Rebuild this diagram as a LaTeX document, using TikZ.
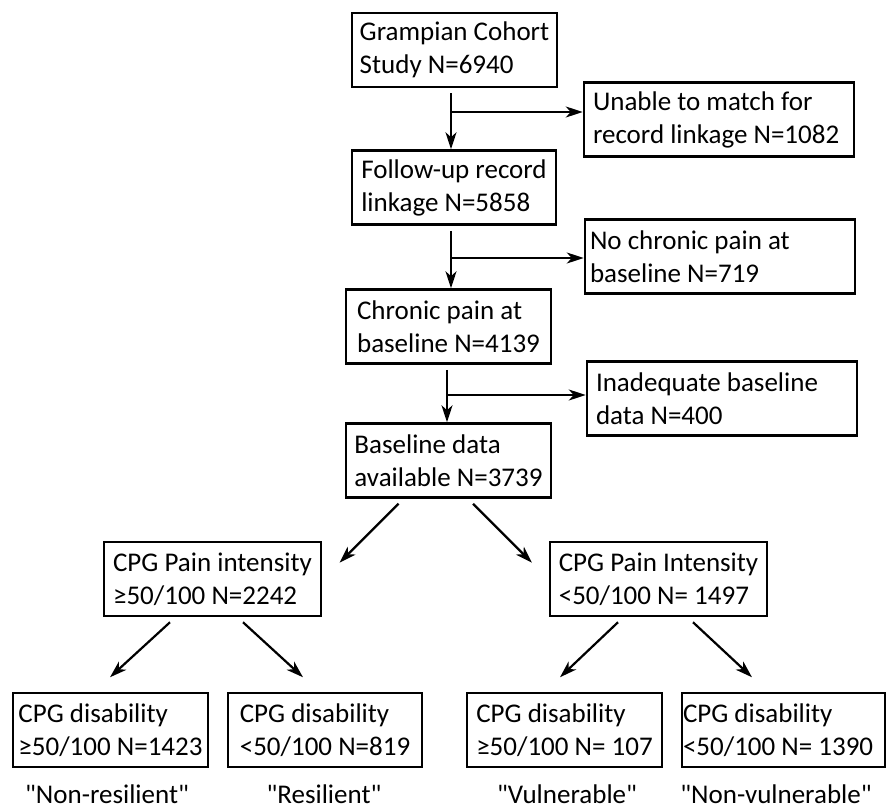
\documentclass[tikz,border=0pt]{standalone}
\usepackage{fontspec}
\setmainfont{Carlito}[Ligatures=TeXOff]
\usetikzlibrary{arrows.meta}

\tikzset{
  box/.style={draw, line width=2.5pt, align=left, inner xsep=2pt, inner ysep=0pt,
    minimum height=74pt, font=\fontsize{27}{33}\selectfont},
  arr/.style={line width=2.2pt, -{Stealth[length=17pt,width=11pt,inset=5pt]}},
  tag/.style={anchor=base, font=\fontsize{27}{33}\selectfont}
}

\begin{document}
\begin{tikzpicture}[x=1pt, y=-1pt]
    \useasboundingbox (0,0) rectangle (887,808);
    % main column
    \node[box, minimum width=205pt] (gcs) at (454.5,50) {Grampian Cohort\\Study N=6940};
    \node[box, minimum width=204pt] (fur) at (454,187.5) {Follow-up record\\linkage N=5858};
    \node[box, minimum width=205pt] (cpb) at (448.5,326.5) {Chronic pain at\\baseline N=4139};
    \node[box, minimum width=205pt] (bda) at (448.5,460.5) {Baseline data\\available N=3739};
    % exclusions
    \node[box, minimum width=270pt, text width=252pt, align=flush left] (unm) at (719,119.5) {Unable to match for\\record linkage N=1082};
    \node[box, minimum width=270pt, text width=260pt, align=flush left] (ncp) at (720,256.5) {No chronic pain at\\baseline N=719};
    \node[box, minimum width=270pt, text width=252pt, align=flush left] (iba) at (722,398.5) {Inadequate baseline\\data N=400};
    % pain intensity
    \node[box, minimum width=217pt] (pih) at (212.5,579) {CPG Pain intensity\\≥50/100 N=2242};
    \node[box, minimum width=217pt] (pil) at (658.5,579) {CPG Pain Intensity\\<50/100 N= 1497};
    % disability
    \node[box, minimum width=195pt] (dhh) at (110.5,730) {CPG disability\\≥50/100 N=1423};
    \node[box, minimum width=194pt] (dhl) at (325,730) {CPG disability\\<50/100 N=819};
    \node[box, minimum width=195pt] (dlh) at (564.5,730) {CPG disability\\≥50/100 N= 107};
    \node[box, minimum width=203pt, inner xsep=0pt, text width=201pt, align=flush left] (dll) at (783.5,730) {CPG disability\\<50/100~N=~1390};
    % groups
    \node[tag] (nres) at (107,803) {"Non-resilient"};
    \node[tag] (res) at (324,803) {"Resilient"};
    \node[tag] (vul) at (567,803) {"Vulnerable"};
    \node[tag] (nvul) at (776,803) {"Non-vulnerable"};

    \coordinate (j1) at (451,112);
    \coordinate (j2) at (451,258);
    \coordinate (j3) at (447,395);
    \draw[arr] (gcs.south -| j1) ++(0,5) -- (fur.north -| j1);
    \draw[arr] (fur.south -| j2) ++(0,5) -- (cpb.north -| j2);
    \draw[arr] (cpb.south -| j3) ++(0,5) -- (bda.north -| j3);
    \draw[arr] (j1) -- (j1 -| unm.west);
    \draw[arr] (j2) -- (j2 -| ncp.west);
    \draw[arr] (j3) -- (j3 -| iba.west);

    \draw[arr] (bda.south) ++(-50,5) -- ++(-59,59);
    \draw[arr] (bda.south) ++(24.5,5) -- ++(59,59);
    \draw[arr] (pih.south) ++(-42.5,5) -- ++(-60,55);
    \draw[arr] (pih.south) ++(30.5,5) -- ++(60,55);
    \draw[arr] (pil.south) ++(-40.5,5) -- ++(-58,55);
    \draw[arr] (pil.south) ++(34.5,5) -- ++(59,55);
\end{tikzpicture}
\end{document}
